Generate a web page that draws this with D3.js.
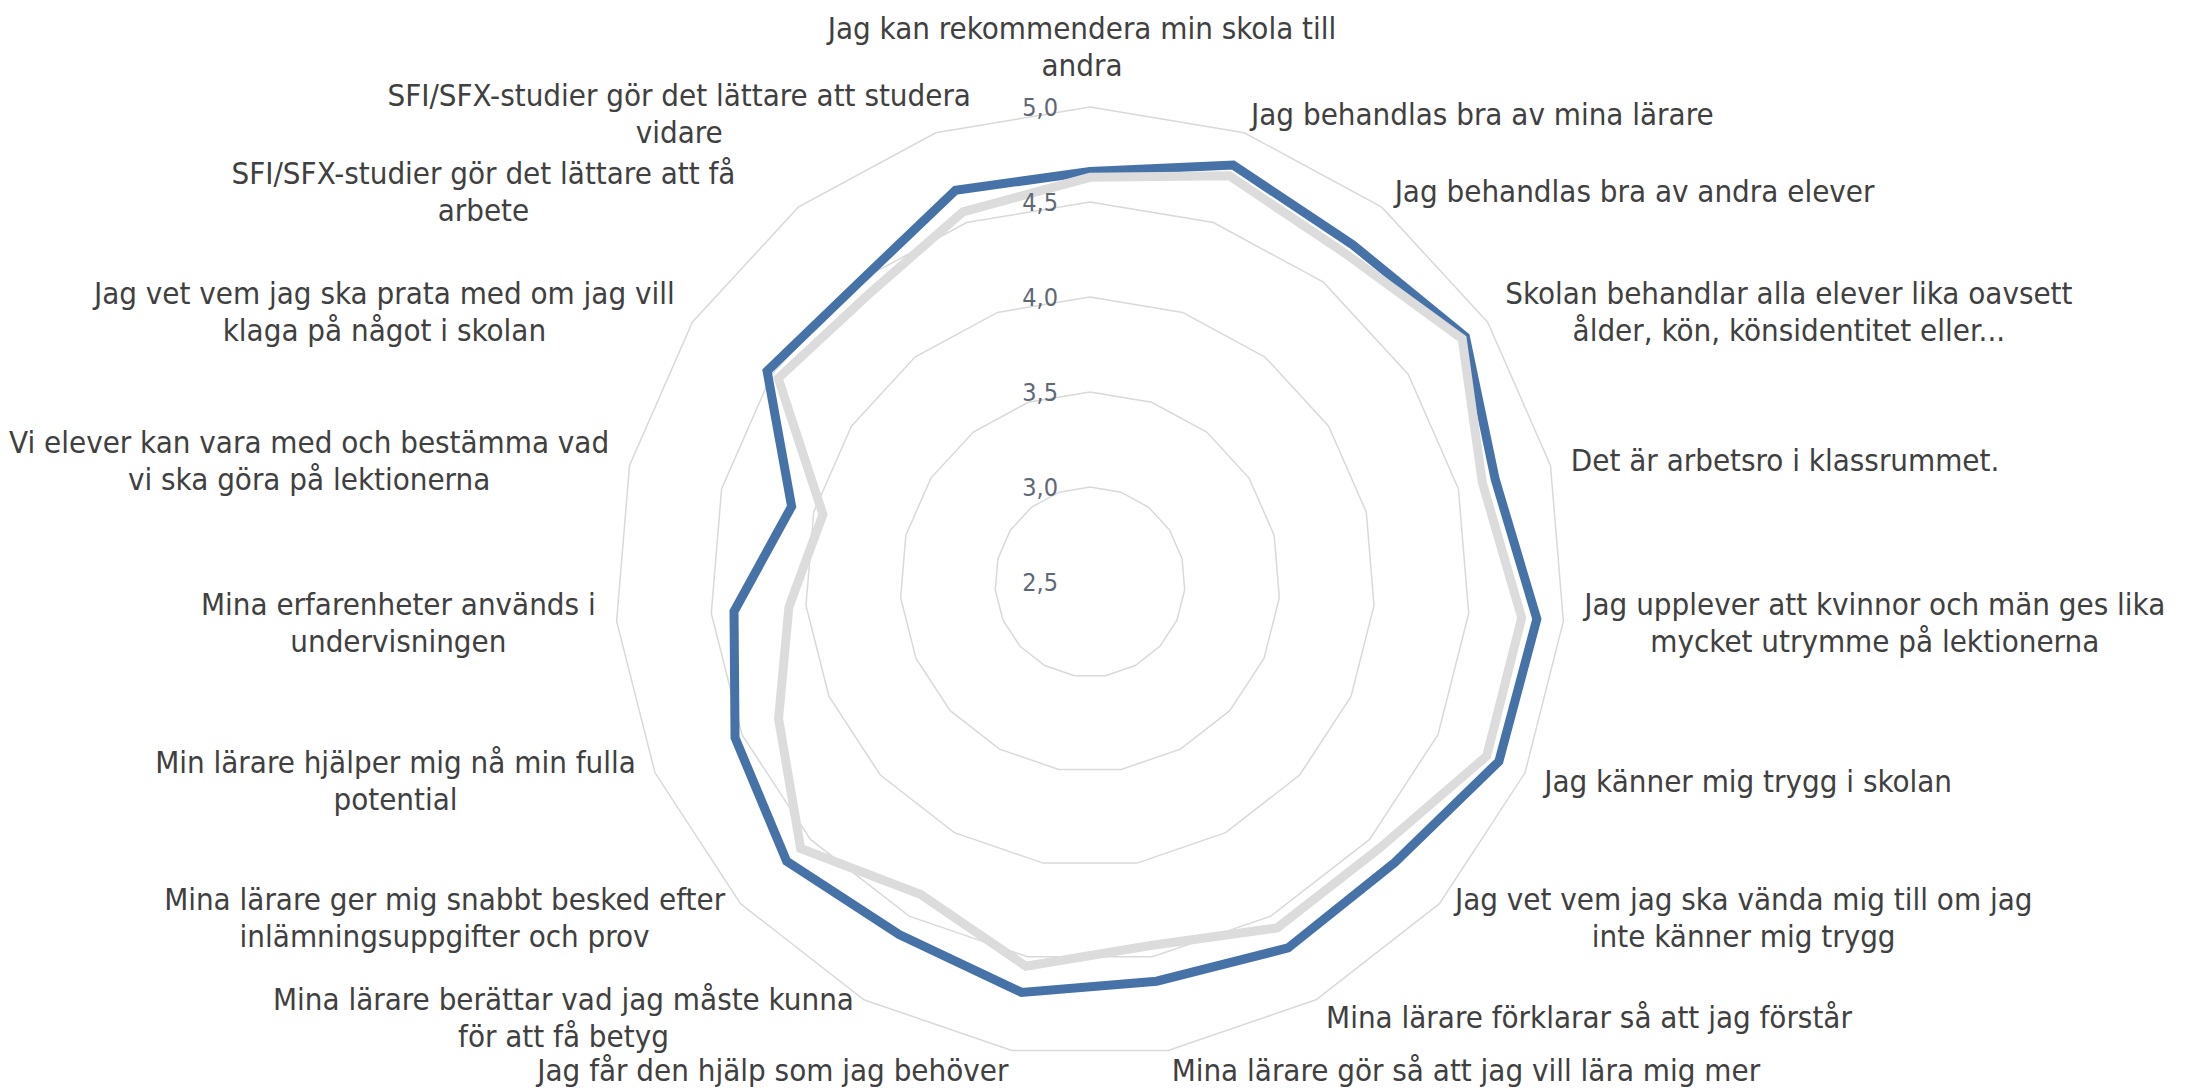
<html>
	<head>
		<title>Elevenkät</title>
		<style>
			body {
				margin: 0;
				background: #fff;
			}
			svg {
				display: block;
				font-family: "Liberation Sans Narrow", "DejaVu Sans Condensed", sans-serif;
			}
		</style>
	</head>
	<body>
		<svg></svg>
		<script src="https://d3js.org/d3.v7.min.js"></script>
		<script>
			// questions, clockwise from the top ("\n" = where the label wraps)
			const categories = [
				"Jag kan rekommendera min skola till\nandra",
				"Jag behandlas bra av mina lärare",
				"Jag behandlas bra av andra elever",
				"Skolan behandlar alla elever lika oavsett\nålder, kön, könsidentitet eller...",
				"Det är arbetsro i klassrummet.",
				"Jag upplever att kvinnor och män ges lika\nmycket utrymme på lektionerna",
				"Jag känner mig trygg i skolan",
				"Jag vet vem jag ska vända mig till om jag\ninte känner mig trygg",
				"Mina lärare förklarar så att jag förstår",
				"Mina lärare gör så att jag vill lära mig mer",
				"Jag får den hjälp som jag behöver",
				"Mina lärare berättar vad jag måste kunna\nför att få betyg",
				"Mina lärare ger mig snabbt besked efter\ninlämningsuppgifter och prov",
				"Min lärare hjälper mig nå min fulla\npotential",
				"Mina erfarenheter används i\nundervisningen",
				"Vi elever kan vara med och bestämma vad\nvi ska göra på lektionerna",
				"Jag vet vem jag ska prata med om jag vill\nklaga på något i skolan",
				"SFI/SFX-studier gör det lättare att få\narbete",
				"SFI/SFX-studier gör det lättare att studera\nvidare"
			];

			// blue series
			const seriesA = [4.66, 4.82, 4.75, 4.86, 4.70, 4.86, 4.85, 4.68, 4.69, 4.63,
			                 4.69, 4.61, 4.67, 4.54, 4.38, 4.12, 4.53, 4.49, 4.68];
			// grey series
			const seriesB = [4.63, 4.76, 4.69, 4.84, 4.63, 4.78, 4.78, 4.57, 4.57, 4.44,
			                 4.55, 4.37, 4.57, 4.29, 4.09, 3.95, 4.46, 4.41, 4.56];

			const ticks = [2.5, 3.0, 3.5, 4.0, 4.5, 5.0];

			const width = 2185;
			const height = 1088;
			const cxy = [1090, 582];
			const fontSize = 31;
			const lineHeight = 37;

			const svg = d3.select("svg")
				.attr("width", width)
				.attr("height", height);

			const r = d3.scaleLinear()
				.domain([2.5, 5])
				.range([0, 475]);

			const n = categories.length;
			const angle = i => i * 2 * Math.PI / n;

			const sv = d3.formatLocale({decimal: ",", thousands: " ", grouping: [3], currency: ["", " kr"]});
			const fmt = sv.format(".1f");

			const g = svg.append("g")
				.attr("transform", `translate(${cxy[0]},${cxy[1]})`);

			// grid rings
			const ring = d3.lineRadial()
				.angle((d, i) => angle(i))
				.radius(d => r(d))
				.curve(d3.curveLinearClosed);

			g.selectAll(".ring")
				.data(ticks.filter(t => t > 2.5))
				.enter().append("path")
				.attr("class", "ring")
				.attr("d", t => ring(d3.range(n).map(() => t)))
				.attr("fill", "none")
				.attr("stroke", "#d9d9d9")
				.attr("stroke-width", 1.5);

			// series, grey drawn last (on top)
			const line = d3.lineRadial()
				.angle((d, i) => angle(i))
				.radius(d => r(d))
				.curve(d3.curveLinearClosed);

			g.selectAll(".series")
				.data([{vals: seriesA, color: "#4672a8"}, {vals: seriesB, color: "#dcdcdc"}])
				.enter().append("path")
				.attr("class", "series")
				.attr("d", d => line(d.vals))
				.attr("fill", "none")
				.attr("stroke", d => d.color)
				.attr("stroke-width", 9)
				.attr("stroke-linejoin", "miter");

			// tick labels along the top spoke
			g.selectAll(".tick")
				.data(ticks)
				.enter().append("text")
				.attr("class", "tick")
				.attr("x", -32)
				.attr("y", t => -r(t))
				.attr("dy", "0.35em")
				.attr("text-anchor", "end")
				.attr("font-size", 25)
				.attr("fill", "#5f6875")
				.text(t => fmt(t));

			// category labels
			const R = r(5);
			const nudge = {0: -8, 17: -50, 18: 42}; // excel shoves these sideways

			categories.forEach((txt, i) => {
				const s = Math.sin(angle(i)), c = Math.cos(angle(i));
				const vx = R * s, vy = -R * c;
				const lines = txt.split("\n");
				const lab = g.append("text")
					.attr("font-size", fontSize)
					.attr("fill", "#404040");
				const spans = lines.map(l => lab.append("tspan").attr("text-anchor", "middle").text(l));
				const w = d3.max(spans, sp => sp.node().getComputedTextLength());
				const h = lines.length * lineHeight;

				let mx; // middle of the label box
				if (Math.abs(s) < 0.05) mx = vx;
				else if (s > 0) mx = vx + 21 * s + w / 2;
				else mx = vx + 21 * s - w / 2;
				mx += (nudge[i] || 0);

				let my; // vertical centre of the box
				if (Math.abs(s) < 0.05) my = c > 0 ? vy - 23 - h / 2 : vy + 23 + h / 2;
				else my = vy - 20 * c;

				spans.forEach((sp, k) => {
					sp.attr("x", mx)
						.attr("y", my - h / 2 + lineHeight * (k + 0.5))
						.attr("dy", "0.35em");
				});
			});
		</script>
	</body>
</html>
